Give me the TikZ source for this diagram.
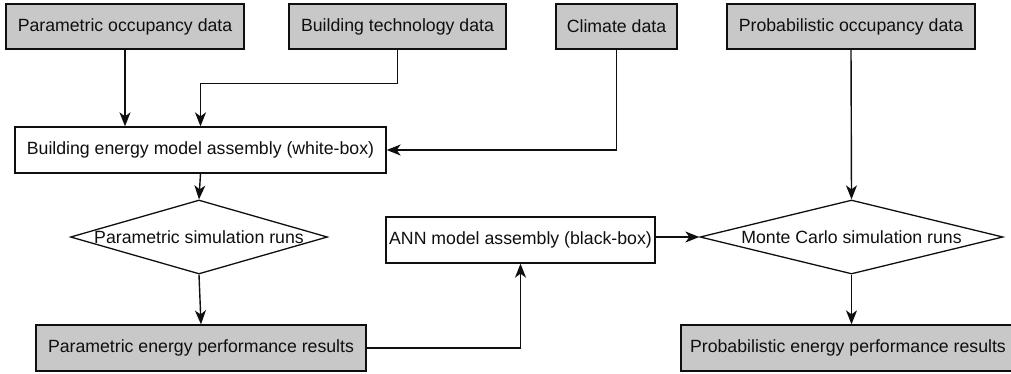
\documentclass[tikz,border=0pt]{standalone}
\usepackage{fontspec}
\setmainfont{Liberation Sans}
\usetikzlibrary{arrows.meta,shapes.geometric}
\definecolor{boxgray}{RGB}{200,200,200}
\definecolor{inkc}{RGB}{15,15,15}
\tikzset{
  every node/.style={font=\fontsize{17.7}{21}\selectfont, text=inkc},
  databox/.style={draw=inkc, line width=1.3pt, fill=boxgray, minimum height=45pt, inner sep=0pt, anchor=center},
  procbox/.style={draw=inkc, line width=1.3pt, fill=white, minimum height=46pt, inner sep=0pt, anchor=center},
  decision/.style={diamond, draw=inkc, line width=1.3pt, inner sep=0pt, aspect=3.5},
  flow/.style={draw=inkc, line width=1.4pt, -{Stealth[length=14pt,width=11pt,inset=4pt]}}
}
\begin{document}
\begin{tikzpicture}[x=1pt,y=-1pt]
\useasboundingbox (0,0) rectangle (1011,373);
% input data
\node[databox, minimum width=238pt] (po) at (125,26.5) {Parametric occupancy data};
\node[databox, minimum width=217pt] (bt) at (397.5,26.5) {Building technology data};
\node[databox, minimum width=121pt] (cd) at (616.5,26.5) {Climate data};
\node[databox, minimum width=248pt] (pr) at (851,26.5) {Probabilistic occupancy data};
% processing
\node[procbox, minimum width=371pt] (bem) at (200.5,150) {Building energy model assembly (white-box)};
\node[decision, minimum width=257pt, minimum height=74pt] (pd) at (199,237) {};
\node at (pd.center) {Parametric simulation runs};
\node[procbox, minimum width=269pt] (ann) at (520.5,240) {ANN model assembly (black-box)};
\node[decision, minimum width=303pt, minimum height=74pt] (mc) at (851.5,237) {};
\node at (mc.center) {Monte Carlo simulation runs};
% results
\node[databox, minimum width=330pt, minimum height=46pt] (per) at (201,348) {Parametric energy performance results};
\node[databox, minimum width=334pt, minimum height=46pt] (ppr) at (848,348) {Probabilistic energy performance results};
% connectors
\draw[flow] (po.south) -- (po.south |- bem.north);
\draw[flow] (bt.south) -- ++(0,34) -| (bem.north);
\draw[flow] (cd.south) |- (bem.east);
\draw[flow] (pr.south) -- (mc.north);
\draw[flow] (bem.south) -- (pd.north);
\draw[flow] (pd.south) -- (per.north);
\draw[flow] (per.east) -| (ann.south);
\draw[flow] (mc.west -| ann.east) -- (mc.west);
\draw[flow] (mc.south) -- (ppr.north -| mc.south);
\end{tikzpicture}
\end{document}
